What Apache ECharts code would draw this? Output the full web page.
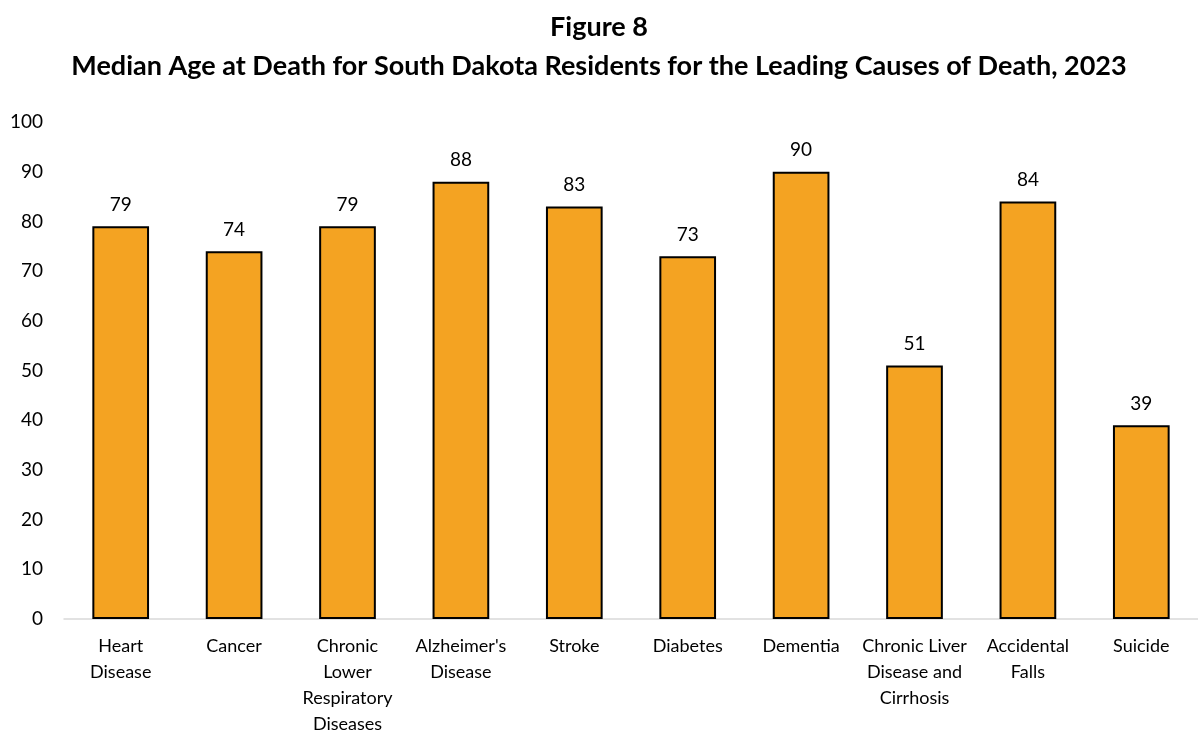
<!DOCTYPE html>
<html><head><meta charset="utf-8">
<script src="https://cdn.jsdelivr.net/npm/echarts@6/dist/echarts.min.js"></script>
<style>html,body{margin:0;padding:0;background:#fff}#c{width:1198px;height:731px}</style>
</head><body><div id="c"></div>
<script>
const categories = ["Heart\nDisease","Cancer","Chronic\nLower\nRespiratory\nDiseases","Alzheimer's\nDisease","Stroke","Diabetes","Dementia","Chronic Liver\nDisease and\nCirrhosis","Accidental\nFalls","Suicide"];
const values = [79,74,79,88,83,73,90,51,84,39];
const titleLines = ["Figure 8","Median Age at Death for South Dakota Residents for the Leading Causes of Death, 2023"];
const FONT = "Lato, 'Open Sans', sans-serif";
const chart = echarts.init(document.getElementById('c'));
chart.setOption({
  animation:false,
  title:{text:titleLines.join("\n"),left:'center',top:3,textStyle:{fontFamily:FONT,fontWeight:'bold',fontSize:27,lineHeight:39,color:'#000'}},
  grid:{left:64,right:0,top:122,bottom:112,containLabel:false,outerBoundsMode:'none'},
  xAxis:{type:'category',data:categories,axisTick:{show:false},
    axisLine:{lineStyle:{color:'#d9d9d9',width:1.5}},
    axisLabel:{interval:0,fontFamily:FONT,fontSize:18,color:'#000',lineHeight:26,margin:14}},
  yAxis:{type:'value',min:0,max:100,interval:10,splitLine:{show:false},axisLine:{show:false},axisTick:{show:false},
    axisLabel:{fontFamily:FONT,fontSize:19,color:'#000',margin:21}},
  series:[{type:'bar',data:values,barWidth:'50%',
    itemStyle:{color:'#F4A322',borderColor:'#000',borderWidth:2},
    label:{show:true,position:'top',distance:12,fontFamily:FONT,fontSize:19,color:'#000'}}]
});
</script></body></html>
